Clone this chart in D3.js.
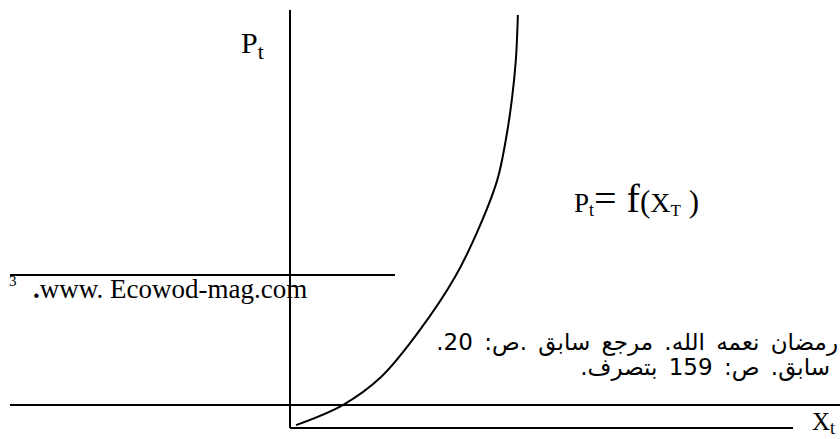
<!DOCTYPE html>
<html>
<head>
<meta charset="utf-8">
<script src="https://cdn.jsdelivr.net/npm/d3@7"></script>
<style>
  body { margin: 0; background: #fff; }
  svg { display: block; }
  text { fill: #000; }
</style>
</head>
<body>
<div id="chart"></div>
<script>
// curve Pt = f(Xt) (axis units 0..100)
const curveX = [1.2, 10.5, 18.1, 25.8, 32.8, 37.4, 41.2, 42.9, 44.1, 44.9, 45.3];
const curveY = [0.7, 5.5, 12.2, 23.4, 36.1, 47.4, 59.3, 68.9, 78.5, 88.0, 98.8];

const xDomain = [0, 100];
const yDomain = [0, 100];

const yLabel = ["P", "t"];
const xLabel = ["X", "t"];
const formula = ["P", "t", "=", " f", "(", "X", "T", " )"];

const footMark = "3";
const footDot = ".";
const footUrl = "www. Ecowod-mag.com";
const refLines = [
  "رمضان نعمه الله. مرجع سابق .ص: 20.",
  "سابق. ص: 159 بتصرف."
];

const serif = '"Liberation Serif", "Times New Roman", serif';
const arabicFont = '"DejaVu Sans", "Liberation Serif", sans-serif';

const width = 840, height = 439;

const svg = d3.select("#chart").append("svg")
    .attr("width", width)
    .attr("height", height);

const x = d3.scaleLinear().domain(xDomain).range([290, 793]);
const y = d3.scaleLinear().domain(yDomain).range([428, 10]);

// footnote separator lines (page layout behind the figure)
svg.append("line")
    .attr("x1", 10).attr("x2", 395)
    .attr("y1", 275).attr("y2", 275)
    .attr("stroke", "#000").attr("stroke-width", 2);

svg.append("line")
    .attr("x1", 10).attr("x2", 840)
    .attr("y1", 405).attr("y2", 405)
    .attr("stroke", "#000").attr("stroke-width", 2);

// axes
svg.append("line")
    .attr("x1", x(0)).attr("x2", x(0))
    .attr("y1", y(100)).attr("y2", y(0))
    .attr("stroke", "#000").attr("stroke-width", 2);

svg.append("line")
    .attr("x1", x(0)).attr("x2", x(100))
    .attr("y1", y(0)).attr("y2", y(0))
    .attr("stroke", "#000").attr("stroke-width", 2);

// the curve
const pts = curveX.map((d, i) => [d, curveY[i]]);
const line = d3.line()
    .x(d => x(d[0]))
    .y(d => y(d[1]))
    .curve(d3.curveCatmullRom.alpha(0.5));

svg.append("path")
    .datum(pts)
    .attr("d", line)
    .attr("fill", "none")
    .attr("stroke", "#000")
    .attr("stroke-width", 2);

// axis labels
const yl = svg.append("text")
    .attr("font-family", serif)
    .attr("x", 241).attr("y", 53)
    .style("font-size", "30px");
yl.append("tspan").text(yLabel[0]);
yl.append("tspan").attr("dy", 6).style("font-size", "22px").text(yLabel[1]);

const xl = svg.append("text")
    .attr("font-family", serif)
    .attr("x", 812).attr("y", 430)
    .style("font-size", "25px");
xl.append("tspan").text(xLabel[0]);
xl.append("tspan").attr("dy", 4).style("font-size", "18px").text(xLabel[1]);

// formula
const fm = svg.append("text")
    .attr("font-family", serif)
    .attr("x", 574).attr("y", 212);
fm.append("tspan").style("font-size", "27px").text(formula[0]);
fm.append("tspan").attr("dy", 4).style("font-size", "18px").text(formula[1]);
fm.append("tspan").attr("dy", -4).style("font-size", "40px").text(formula[2]);
fm.append("tspan").style("font-size", "40px").text(formula[3]);
fm.append("tspan").style("font-size", "31px").text(formula[4]);
fm.append("tspan").style("font-size", "28px").text(formula[5]);
fm.append("tspan").attr("dy", 4).style("font-size", "17px").text(formula[6]);
fm.append("tspan").attr("dy", -4).style("font-size", "31px").text(formula[7]);

// footnote
svg.append("text")
    .attr("font-family", serif)
    .attr("x", 9).attr("y", 286)
    .style("font-size", "15px")
    .text(footMark);

const fu = svg.append("text")
    .attr("font-family", serif)
    .attr("x", 33).attr("y", 298)
    .style("font-size", "27px");
fu.append("tspan").style("font-weight", "bold").text(footDot);
fu.append("tspan").text(footUrl);

// references (arabic, right to left)
svg.selectAll(".ref")
    .data(refLines)
    .enter().append("text")
    .attr("class", "ref")
    .attr("font-family", arabicFont)
    .attr("x", (d, i) => i === 0 ? 838 : 830)
    .attr("y", (d, i) => 350 + i * 25)
    .attr("direction", "rtl")
    .attr("text-anchor", "start")
    .style("font-size", "23px")
    .style("word-spacing", "4px")
    .text(d => d);
</script>
</body>
</html>
